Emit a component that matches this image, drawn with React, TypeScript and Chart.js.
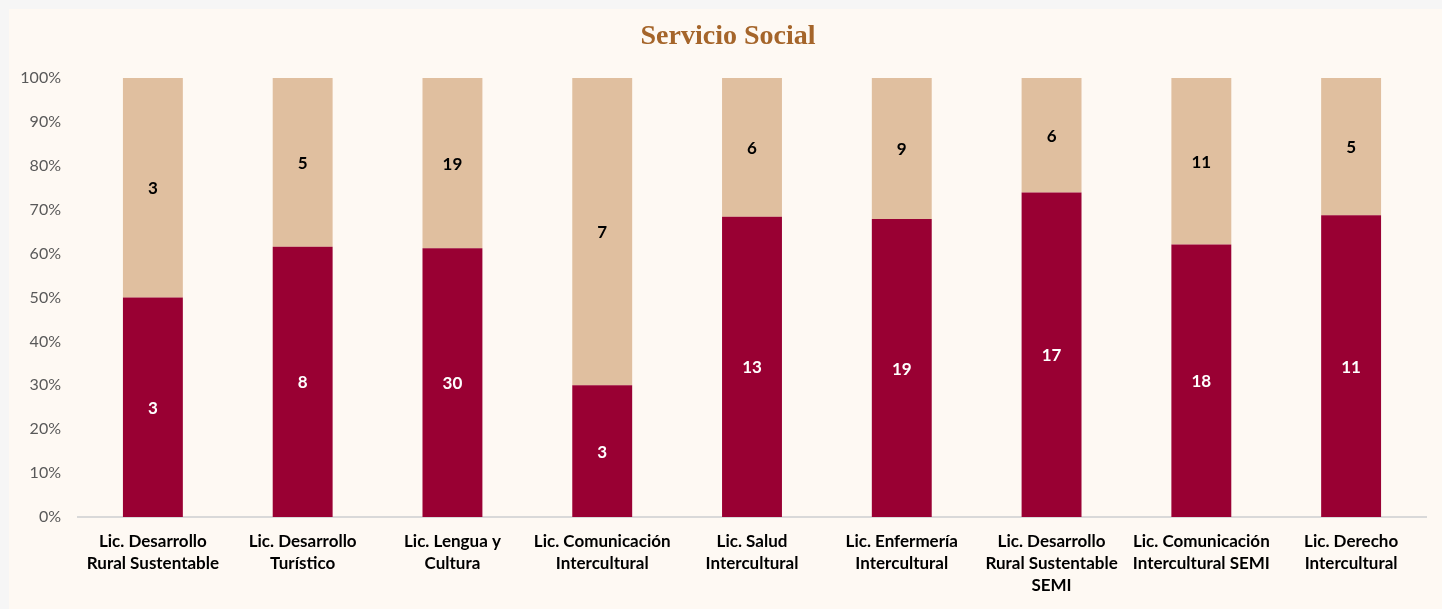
import React, { useEffect, useRef } from "react";
import { Chart, registerables } from "chart.js";

Chart.register(...registerables);

const categories: string[][] = [
  ["Lic. Desarrollo", "Rural Sustentable"],
  ["Lic. Desarrollo", "Turístico"],
  ["Lic. Lengua y", "Cultura"],
  ["Lic. Comunicación", "Intercultural"],
  ["Lic. Salud", "Intercultural"],
  ["Lic. Enfermería", "Intercultural"],
  ["Lic. Desarrollo", "Rural Sustentable", "SEMI"],
  ["Lic. Comunicación", "Intercultural SEMI"],
  ["Lic. Derecho", "Intercultural"],
];

const bottomCounts: number[] = [3, 8, 30, 3, 13, 19, 17, 18, 11];
const topCounts: number[] = [3, 5, 19, 7, 6, 9, 6, 11, 5];

const titleText = "Servicio Social";
const yTicks: number[] = [0, 10, 20, 30, 40, 50, 60, 70, 80, 90, 100];

const BOTTOM_COLOR = "#990033";
const TOP_COLOR = "#E0BF9F";
const BG = "#FEF9F3";
const FONT = "Lato, 'Open Sans', sans-serif";

const pct = (a: number[], b: number[]) => a.map((v, i) => (v / (v + b[i])) * 100);

const labelPlugin = {
  id: "segmentLabels",
  afterDatasetsDraw(chart: any) {
    const ctx = chart.ctx;
    ctx.save();
    ctx.font = `bold 17px ${FONT}`;
    ctx.textAlign = "center";
    ctx.textBaseline = "middle";
    chart.data.datasets.forEach((ds: any, di: number) => {
      const meta = chart.getDatasetMeta(di);
      const counts = di === 0 ? bottomCounts : topCounts;
      meta.data.forEach((bar: any, i: number) => {
        const { x, y, base } = bar.getProps(["x", "y", "base"], true);
        ctx.fillStyle = di === 0 ? "#FFFFFF" : "#000000";
        ctx.fillText(String(counts[i]), x, (y + base) / 2 + 1);
      });
    });
    ctx.restore();
  },
};

const titlePlugin = {
  id: "customTitle",
  afterDraw(chart: any) {
    const ctx = chart.ctx;
    ctx.save();
    ctx.font = `bold 28px 'Liberation Serif', serif`;
    ctx.fillStyle = "#A5652A";
    ctx.textAlign = "center";
    ctx.textBaseline = "middle";
    ctx.fillText(titleText, 719, 28);
    ctx.restore();
  },
};

export default function App() {
  const ref = useRef<HTMLCanvasElement | null>(null);

  useEffect(() => {
    document.body.style.background = "#F6F6F6";
    const canvas = ref.current;
    if (!canvas) return;
    const chart = new Chart(canvas, {
      type: "bar",
      data: {
        labels: categories,
        datasets: [
          {
            label: "Realizado",
            data: pct(bottomCounts, topCounts),
            backgroundColor: BOTTOM_COLOR,
            borderWidth: 0,
            barPercentage: 0.4,
            categoryPercentage: 1,
          },
          {
            label: "Pendiente",
            data: pct(topCounts, bottomCounts),
            backgroundColor: TOP_COLOR,
            borderWidth: 0,
            barPercentage: 0.4,
            categoryPercentage: 1,
          },
        ],
      },
      options: {
        animation: false,
        responsive: false,
        maintainAspectRatio: false,
        layout: { padding: { top: 69, right: 16, left: 0, bottom: 0 } },
        plugins: {
          legend: { display: false },
          title: { display: false },
          tooltip: { enabled: false },
        },
        scales: {
          x: {
            stacked: true,
            grid: { display: false, drawTicks: false },
            border: { display: true, color: "#D9D9D9", width: 2 },
            ticks: {
              color: "#000000",
              font: { family: FONT, size: 17, weight: "bold", lineHeight: 1.3 },
              padding: 13,
              maxRotation: 0,
              autoSkip: false,
            },
            afterFit: (s: any) => {
              s.height = 92;
            },
          },
          y: {
            stacked: true,
            min: 0,
            max: 100,
            afterBuildTicks: (s: any) => {
              s.ticks = yTicks.map((v) => ({ value: v }));
            },
            grid: { display: false, drawTicks: false },
            border: { display: false },
            ticks: {
              color: "#595959",
              font: { family: FONT, size: 16 },
              padding: 17,
              callback: (v: any) => `${v}%`,
            },
            afterFit: (s: any) => {
              s.width = 69;
            },
          },
        },
      },
      plugins: [
        {
          id: "bg",
          beforeDraw(c: any) {
            const ctx = c.ctx;
            ctx.save();
            ctx.fillStyle = BG;
            ctx.fillRect(0, 0, c.width, c.height);
            ctx.restore();
          },
        },
        labelPlugin,
        titlePlugin,
      ],
    });
    return () => chart.destroy();
  }, []);

  return (
    <div style={{ position: "absolute", left: 9, top: 9, width: 1433, height: 600 }}>
      <canvas ref={ref} width={1433} height={600} style={{ display: "block" }} />
    </div>
  );
}
